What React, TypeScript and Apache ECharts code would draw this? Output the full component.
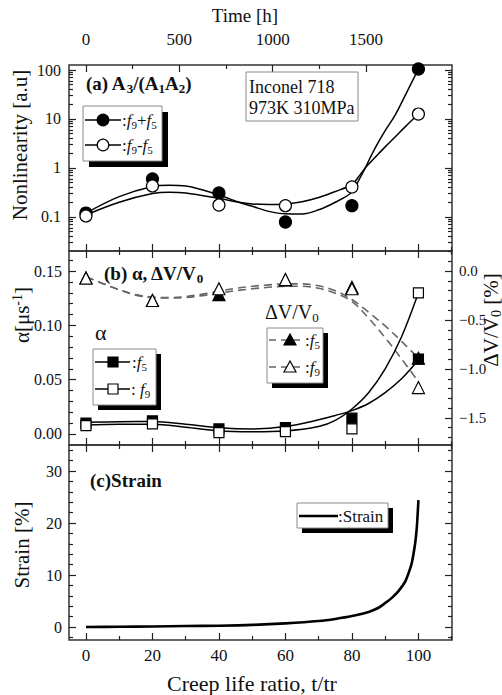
import React, { useEffect, useRef } from 'react';
import * as echarts from 'echarts';

const SERIF = 'Liberation Serif, Times New Roman, serif';

// ---------- data ----------
const ratio = [0, 20, 40, 60, 80, 100];
const nlSum = [0.12, 0.6, 0.31, 0.079, 0.17, 105];
const nlDiff = [0.105, 0.43, 0.175, 0.17, 0.41, 12.6];
const nlFitX = [0, 10, 20, 25, 30, 40, 46, 50, 55, 60, 65, 70, 75, 80, 82, 84, 86, 88, 90, 93, 96, 100];
const nlSumFit = [0.12, 0.26, 0.42, 0.445, 0.43, 0.28, 0.2, 0.165, 0.13, 0.116, 0.115, 0.14, 0.2, 0.32, 0.55, 1.0, 1.9, 3.4, 5.8, 12, 30, 105];
const nlDiffFit = [0.11, 0.2, 0.3, 0.32, 0.31, 0.24, 0.2, 0.185, 0.18, 0.185, 0.205, 0.25, 0.33, 0.46, 0.66, 1.0, 1.4, 1.95, 2.7, 4.3, 6.9, 12.6];

const alphaF5 = [0.0099, 0.012, 0.0046, 0.0058, 0.0145, 0.069];
const alphaF9 = [0.0077, 0.0093, 0.0012, 0.0021, 0.0046, 0.13];
const alphaFitX = [0, 10, 20, 30, 40, 50, 60, 70, 75, 80, 85, 90, 95, 100];
const alphaF5Fit = [0.0108, 0.0112, 0.0114, 0.009, 0.0058, 0.0046, 0.0068, 0.013, 0.017, 0.0215, 0.028, 0.038, 0.051, 0.068];
const alphaF9Fit = [0.0083, 0.0088, 0.009, 0.0062, 0.0028, 0.0021, 0.0028, 0.0068, 0.0125, 0.023, 0.038, 0.06, 0.09, 0.13];

const dvF5 = [-0.07, -0.3, -0.24, -0.09, -0.165, -0.89];
const dvF9 = [-0.07, -0.3, -0.18, -0.086, -0.18, -1.19];
const dvFitX = [0, 5, 10, 15, 20, 25, 30, 35, 40, 45, 50, 55, 60, 65, 70, 75, 80, 85, 90, 95, 100];
const dvF5Fit = [-0.06, -0.125, -0.19, -0.24, -0.265, -0.27, -0.26, -0.235, -0.205, -0.175, -0.155, -0.14, -0.13, -0.13, -0.15, -0.2, -0.29, -0.42, -0.56, -0.72, -0.89];
const dvF9Fit = [-0.06, -0.125, -0.19, -0.245, -0.27, -0.275, -0.27, -0.25, -0.225, -0.2, -0.18, -0.165, -0.155, -0.155, -0.175, -0.225, -0.31, -0.48, -0.68, -0.9, -1.13];

const strainX = [0, 10, 20, 30, 40, 50, 60, 70, 75, 80, 85, 88, 90, 92, 94, 96, 97, 98, 99, 99.5, 100];
const strainY = [0, 0.05, 0.1, 0.18, 0.25, 0.4, 0.7, 1.15, 1.55, 2.1, 2.9, 3.7, 4.6, 5.6, 6.9, 8.7, 10.3, 12.3, 16, 19, 24.4];

// ---------- ticks ----------
const timeTicks = [0, 500, 1000, 1500];
const timeMinor = [250, 750, 1250, 1750];
const ratioTicks = [0, 20, 40, 60, 80, 100];
const ratioMinor = [10, 30, 50, 70, 90, 110];
const nlTicks = [0.1, 1, 10, 100];
const nlMinor = [0.03, 0.04, 0.05, 0.06, 0.07, 0.08, 0.09, 0.2, 0.3, 0.4, 0.5, 0.6, 0.7, 0.8, 0.9, 2, 3, 4, 5, 6, 7, 8, 9, 20, 30, 40, 50, 60, 70, 80, 90];
const alphaTicks = [0, 0.05, 0.1, 0.15];
const alphaMinor = [0.01, 0.02, 0.03, 0.04, 0.06, 0.07, 0.08, 0.09, 0.11, 0.12, 0.13, 0.14, 0.16];
const dvTicks = [0, -0.5, -1, -1.5];
const dvMinor = [0.2, 0.1, -0.1, -0.2, -0.3, -0.4, -0.6, -0.7, -0.8, -0.9, -1.1, -1.2, -1.3, -1.4, -1.6, -1.7];
const strainTicks = [0, 10, 20, 30];
const strainMinor = [-2, 2, 4, 6, 8, 12, 14, 16, 18, 22, 24, 26, 28, 32, 34];

const T_TOTAL = 1780;
const X_MIN = -5.1;
const X_MAX = 110.1;

const pairs = (xs: number[], ys: number[]) => xs.map((x, i) => [x, ys[i]]);

const tickStyle = { color: '#222', width: 1.2 };
const labelBase = { fontFamily: SERIF, color: '#111' };

function ax(gridIndex: number, position: string, type: string, min: number, max: number, values: number[], len: number, label?: any) {
  const a: any = {
    type,
    gridIndex,
    position,
    min,
    max,
    axisLine: { show: false, onZero: false },
    splitLine: { show: false },
    minorTick: { show: false },
    axisTick: { show: true, inside: true, length: len, customValues: values, lineStyle: tickStyle },
    axisLabel: label ? { show: true, customValues: values, ...labelBase, ...label } : { show: false },
  };
  if (type === 'log') a.logBase = 10;
  return a;
}

const NL_MIN = 0.0202;
const NL_MAX = 126.5;
const AL_MIN = -0.0102;
const AL_MAX = 0.1685;
const DV_MIN = -1.777;
const DV_MAX = 0.206;
const ST_MIN = -2.5;
const ST_MAX = 35;

const plain = (v: number) => String(v);

const xAxes = [
  ax(0, 'bottom', 'value', X_MIN, X_MAX, ratioTicks, 7),
  ax(0, 'bottom', 'value', X_MIN, X_MAX, ratioMinor, 4),
  ax(0, 'top', 'value', X_MIN * T_TOTAL / 100, X_MAX * T_TOTAL / 100, timeTicks, 7, { fontSize: 17, margin: 17, formatter: plain }),
  ax(0, 'top', 'value', X_MIN * T_TOTAL / 100, X_MAX * T_TOTAL / 100, timeMinor, 4),
  ax(1, 'bottom', 'value', X_MIN, X_MAX, ratioTicks, 7),
  ax(1, 'bottom', 'value', X_MIN, X_MAX, ratioMinor, 4),
  ax(1, 'top', 'value', X_MIN, X_MAX, ratioTicks, 7),
  ax(1, 'top', 'value', X_MIN, X_MAX, ratioMinor, 4),
  ax(2, 'bottom', 'value', X_MIN, X_MAX, ratioTicks, 7, { fontSize: 17, margin: 7, formatter: plain }),
  ax(2, 'bottom', 'value', X_MIN, X_MAX, ratioMinor, 4),
  ax(2, 'top', 'value', X_MIN, X_MAX, ratioTicks, 7),
  ax(2, 'top', 'value', X_MIN, X_MAX, ratioMinor, 4),
];

const yAxes = [
  ax(0, 'left', 'log', NL_MIN, NL_MAX, nlTicks, 7, { fontSize: 16, margin: 8, formatter: plain }),
  ax(0, 'left', 'log', NL_MIN, NL_MAX, nlMinor, 4),
  ax(0, 'right', 'log', NL_MIN, NL_MAX, nlTicks, 7),
  ax(0, 'right', 'log', NL_MIN, NL_MAX, nlMinor, 4),
  ax(1, 'left', 'value', AL_MIN, AL_MAX, alphaTicks, 7, { fontSize: 16, margin: 7, formatter: (v: number) => v.toFixed(2) }),
  ax(1, 'left', 'value', AL_MIN, AL_MAX, alphaMinor, 4),
  ax(1, 'right', 'value', DV_MIN, DV_MAX, dvTicks, 7, {
    fontSize: 15,
    margin: 7,
    formatter: (v: number) => (Math.abs(v) < 1e-9 ? '0.0' : '\u2212' + Math.abs(v).toFixed(1)),
  }),
  ax(1, 'right', 'value', DV_MIN, DV_MAX, dvMinor, 4),
  ax(2, 'left', 'value', ST_MIN, ST_MAX, strainTicks, 7, { fontSize: 16, margin: 7, formatter: plain }),
  ax(2, 'left', 'value', ST_MIN, ST_MAX, strainMinor, 4),
  ax(2, 'right', 'value', ST_MIN, ST_MAX, strainTicks, 7),
  ax(2, 'right', 'value', ST_MIN, ST_MAX, strainMinor, 4),
];

const gridBase = {
  left: 69,
  width: 383,
  show: true,
  borderColor: '#333',
  borderWidth: 1.5,
  backgroundColor: 'transparent',
  containLabel: false,
  outerBoundsMode: 'none',
};

const black = '#000';
const fitLine = (name: string, xi: number, yi: number, xs: number[], ys: number[], extra: any = {}) => ({
  name,
  type: 'line',
  xAxisIndex: xi,
  yAxisIndex: yi,
  data: pairs(xs, ys),
  smooth: 0.35,
  symbol: 'none',
  lineStyle: { color: black, width: 1.5, ...extra },
  z: 2,
  silent: true,
});
const marks = (name: string, xi: number, yi: number, ys: number[], symbol: string, size: number, filled: boolean, z: number) => ({
  name,
  type: 'scatter',
  xAxisIndex: xi,
  yAxisIndex: yi,
  data: pairs(ratio, ys),
  symbol,
  symbolSize: size,
  itemStyle: { color: filled ? black : '#fff', borderColor: black, borderWidth: 1.2, opacity: 1 },
  z,
  silent: true,
});

const series: any[] = [
  fitLine('fitSum', 0, 0, nlFitX, nlSumFit),
  fitLine('fitDiff', 0, 0, nlFitX, nlDiffFit),
  marks('f9+f5', 0, 0, nlSum, 'circle', 12, true, 3),
  marks('f9-f5', 0, 0, nlDiff, 'circle', 12, false, 4),

  fitLine('dvFit5', 4, 6, dvFitX, dvF5Fit, { type: [8, 5], color: '#666', width: 1.6 }),
  fitLine('dvFit9', 4, 6, dvFitX, dvF9Fit, { type: [8, 5], color: '#666', width: 1.6 }),
  fitLine('alFit5', 4, 4, alphaFitX, alphaF5Fit),
  fitLine('alFit9', 4, 4, alphaFitX, alphaF9Fit),
  marks('a f5', 4, 4, alphaF5, 'rect', 10, true, 3),
  marks('a f9', 4, 4, alphaF9, 'rect', 10, false, 4),
  marks('dv f5', 4, 6, dvF5, 'triangle', 12, true, 5),
  marks('dv f9', 4, 6, dvF9, 'triangle', 12, false, 6),

  {
    name: 'Strain',
    type: 'line',
    xAxisIndex: 8,
    yAxisIndex: 8,
    data: pairs(strainX, strainY),
    smooth: 0.3,
    symbol: 'none',
    lineStyle: { color: black, width: 2.6 },
    silent: true,
  },
];

// ---------- graphic helpers ----------
const txt = (x: number, y: number, text: string, size: number, opts: any = {}) => ({
  type: 'text',
  x,
  y,
  rotation: opts.rot || 0,
  z: 100,
  silent: true,
  style: {
    text,
    fontFamily: SERIF,
    fontSize: size,
    fontWeight: opts.weight || 'normal',
    fill: '#111',
    align: opts.align || 'left',
    verticalAlign: 'middle',
    textAlign: opts.align || 'left',
    textVerticalAlign: 'middle',
    rich: opts.rich,
  },
});

const richBold = {
  b: { fontFamily: SERIF, fontWeight: 'bold', fontSize: 19, color: '#111' },
  bs: { fontFamily: SERIF, fontWeight: 'bold', fontSize: 13, padding: [10, 0, 0, 0], color: '#111' },
};
const richLeg = {
  n: { fontFamily: SERIF, fontSize: 17, color: '#111' },
  i: { fontFamily: SERIF, fontSize: 17, fontStyle: 'italic', color: '#111' },
  s: { fontFamily: SERIF, fontSize: 11, padding: [9, 0, 0, 0], color: '#111' },
};
const richReg = (size: number) => ({
  r: { fontFamily: SERIF, fontSize: size, color: '#111' },
  rs: { fontFamily: SERIF, fontSize: Math.round(size * 0.65), padding: [10, 0, 0, 0], color: '#111' },
  sup: { fontFamily: SERIF, fontSize: Math.round(size * 0.65), padding: [0, 0, 10, 0], color: '#111' },
});

const boxWithShadow = (x: number, y: number, w: number, h: number, off: number) => [
  { type: 'rect', z: 90, silent: true, shape: { x: x + off, y: y + off, width: w, height: h }, style: { fill: '#000' } },
  { type: 'rect', z: 91, silent: true, shape: { x, y, width: w, height: h }, style: { fill: '#fff', stroke: '#8a8a8a', lineWidth: 1 } },
];
const hline = (x1: number, x2: number, y: number, w: number, color = '#000', dash?: number[]) => ({
  type: 'line',
  z: 92,
  silent: true,
  shape: { x1, y1: y, x2, y2: y },
  style: { stroke: color, lineWidth: w, lineDash: dash },
});
const circ = (cx: number, cy: number, filled: boolean) => ({
  type: 'circle',
  z: 93,
  silent: true,
  shape: { cx, cy, r: 5.8 },
  style: { fill: filled ? '#000' : '#fff', stroke: '#000', lineWidth: 1.2 },
});
const sq = (cx: number, cy: number, filled: boolean) => ({
  type: 'rect',
  z: 93,
  silent: true,
  shape: { x: cx - 5, y: cy - 5, width: 10, height: 10 },
  style: { fill: filled ? '#000' : '#fff', stroke: '#000', lineWidth: 1.2 },
});
const tri = (cx: number, cy: number, filled: boolean) => ({
  type: 'polygon',
  z: 93,
  silent: true,
  shape: { points: [[cx, cy - 6], [cx - 6, cy + 5], [cx + 6, cy + 5]] },
  style: { fill: filled ? '#000' : '#fff', stroke: '#000', lineWidth: 1.2 },
});

const graphics: any[] = [
  // axis titles
  txt(245, 15, 'Time [h]', 19, { align: 'center' }),
  txt(252, 683, 'Creep life ratio, t/tr', 22, { align: 'center' }),
  txt(20, 145, 'Nonlinearity [a.u]', 21, { align: 'center', rot: Math.PI / 2 }),
  txt(22, 315, '{r|\u03b1[\u03bcs}{sup|-1}{r|]}', 21, { align: 'center', rot: Math.PI / 2, rich: richReg(21) }),
  txt(22, 545, 'Strain [%]', 21, { align: 'center', rot: Math.PI / 2 }),
  txt(491, 320, '{r|\u0394V/V}{rs|0}{r| [%]}', 21, { align: 'center', rot: Math.PI / 2, rich: richReg(21) }),

  // panel titles
  txt(86, 83, '{b|(a) A}{bs|3}{b|/(A}{bs|1}{b|A}{bs|2}{b|)}', 19, { rich: richBold }),
  txt(104, 273, '{b|(b) \u03b1, \u0394V/V}{bs|0}', 19, { rich: richBold }),
  txt(90, 480, '(c)Strain', 19, { weight: 'bold' }),
  txt(95, 332, '\u03b1', 22),
  txt(265, 312, '{r|\u0394V/V}{rs|0}', 20, { rich: richReg(20) }),

  // Inconel box
  { type: 'rect', z: 91, silent: true, shape: { x: 246, y: 72, width: 112, height: 49 }, style: { fill: '#fff', stroke: '#8a8a8a', lineWidth: 1 } },
  txt(249, 87, 'Inconel 718', 18),
  txt(249, 108, '973K 310MPa', 18),

  // legend (a)
  ...boxWithShadow(83, 106, 79, 55, 6),
  hline(85, 121, 120, 1.5),
  circ(103, 120, true),
  txt(122, 120, '{n|:}{i|f}{s|9}{n|+}{i|f}{s|5}', 17, { rich: richLeg }),
  hline(85, 121, 145, 1.5),
  circ(103, 145, false),
  txt(122, 145, '{n|:}{i|f}{s|9}{n|-}{i|f}{s|5}', 17, { rich: richLeg }),

  // legend alpha
  ...boxWithShadow(93, 349, 63, 56, 5),
  hline(95, 130, 362, 1.5),
  sq(113, 362, true),
  txt(132, 362, '{n|:}{i|f}{s|5}', 17, { rich: richLeg }),
  hline(95, 130, 389, 1.5),
  sq(113, 389, false),
  txt(131, 389, '{n|: }{i|f}{s|9}', 17, { rich: richLeg }),

  // legend dV
  ...boxWithShadow(267, 328, 56, 55, 5),
  hline(269, 305, 340, 1.6, '#666', [7, 5]),
  tri(290, 340, true),
  txt(305, 340, '{n|:}{i|f}{s|5}', 17, { rich: richLeg }),
  hline(269, 305, 367, 1.6, '#666', [7, 5]),
  tri(290, 367, false),
  txt(305, 367, '{n|:}{i|f}{s|9}', 17, { rich: richLeg }),

  // legend strain
  ...boxWithShadow(297, 503, 91, 25, 5),
  hline(299, 338, 516, 2.6),
  txt(338, 516, ':Strain', 17),
];

const option: any = {
  animation: false,
  backgroundColor: '#fff',
  grid: [
    { ...gridBase, top: 65, height: 186 },
    { ...gridBase, top: 251, height: 194 },
    { ...gridBase, top: 445, height: 195 },
  ],
  xAxis: xAxes,
  yAxis: yAxes,
  series,
  graphic: graphics,
};

export default function App() {
  const ref = useRef<HTMLDivElement>(null);
  useEffect(() => {
    if (!ref.current) return;
    const chart = echarts.init(ref.current, null, { renderer: 'svg' });
    chart.setOption(option);
    return () => chart.dispose();
  }, []);
  return (
    <div
      ref={ref}
      style={{ position: 'absolute', left: 0, top: 0, width: 502, height: 695, background: '#fff' }}
    />
  );
}
